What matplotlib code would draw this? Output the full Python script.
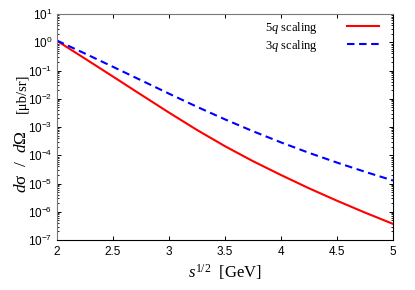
import numpy as np
import matplotlib
matplotlib.use('Agg')
import matplotlib.pyplot as plt
from matplotlib.ticker import LogLocator, FixedLocator, FuncFormatter, NullFormatter

# values (log10 of dsigma/dOmega in ub/sr)
sqrt_s = [2.0, 2.25, 2.5, 2.75, 3.0, 3.25, 3.5, 3.75, 4.0, 4.25, 4.5, 4.75, 5.0]
log_5q = [0.05, -0.58, -1.215, -1.855, -2.49, -3.105, -3.68, -4.21, -4.70, -5.17, -5.61, -6.03, -6.43]
log_3q = [0.06, -0.40, -0.87, -1.345, -1.82, -2.285, -2.73, -3.15, -3.545, -3.915, -4.26, -4.585, -4.895]
labels = ['5$q$ scaling', '3$q$ scaling']
xticks = [2, 2.5, 3, 3.5, 4, 4.5, 5]

plt.rcParams['mathtext.fontset'] = 'custom'
plt.rcParams['mathtext.rm'] = 'Liberation Serif'
plt.rcParams['mathtext.it'] = 'Liberation Serif:italic'
plt.rcParams['mathtext.sf'] = 'Liberation Sans'
plt.rcParams['font.family'] = ['Liberation Serif', 'DejaVu Serif']

fig = plt.figure(figsize=(4.15, 2.9), dpi=100)
ax = fig.add_axes([57/415, 1-240/290, 336/415, 226/290])

y5 = 10 ** np.array(log_5q)
y3 = 10 ** np.array(log_3q)

ax.plot(sqrt_s, y5, color='#ff0000', lw=1.5, label=labels[0])
l3, = ax.plot(sqrt_s, y3, color='#0000ff', lw=1.5, label=labels[1])
l3.set_dashes((3.6, 2.2))

ax.set_yscale('log')
ax.set_xlim(2, 5)
ax.set_ylim(1e-7, 1e1)

ax.xaxis.set_major_locator(FixedLocator(xticks))
ax.xaxis.set_major_formatter(FuncFormatter(lambda v, p: '%g' % v))
ax.yaxis.set_major_locator(LogLocator(base=10, numticks=20))
ax.yaxis.set_minor_locator(LogLocator(base=10, subs=np.arange(2, 10), numticks=20))
ax.yaxis.set_minor_formatter(NullFormatter())
ax.yaxis.set_major_formatter(FuncFormatter(
    lambda v, p: r'$\mathsf{10^{%d}}$' % int(round(np.log10(v)))))

ax.tick_params(which='both', direction='in', top=True, right=True)
ax.tick_params(which='major', length=2.8, width=0.7)
ax.tick_params(which='minor', length=1.6, width=0.6)
for lab in ax.get_xticklabels() + ax.get_yticklabels():
    lab.set_family('Liberation Sans')
    lab.set_fontsize(8.5)
ax.tick_params(axis='x', pad=4)
ax.tick_params(axis='y', pad=3.5)

for sp in ax.spines.values():
    sp.set_linewidth(0.8)
ax.spines['left'].set_color('#777777')
ax.spines['top'].set_color('#777777')

ax.set_xlabel('$s^{1/2}$  [GeV]', fontsize=12, labelpad=3)

# y label: bigger math part + smaller unit on a shared baseline
fig.text(26/415, 1-162/290, '$d$σ  /  $d$Ω', rotation=90, fontsize=12.5,
         ha='center', va='baseline', rotation_mode='anchor')
fig.text(26/415, 1-93/290, '[μb/sr]', rotation=90, fontsize=10.5,
         ha='center', va='baseline', rotation_mode='anchor')

ax.legend(loc='upper right', bbox_to_anchor=(0.958, 0.975), frameon=False,
          markerfirst=False, fontsize=9, handlelength=2.56, handletextpad=2.3,
          labelspacing=0.15, borderpad=0, borderaxespad=0)

fig.savefig('out.png', dpi=100)
